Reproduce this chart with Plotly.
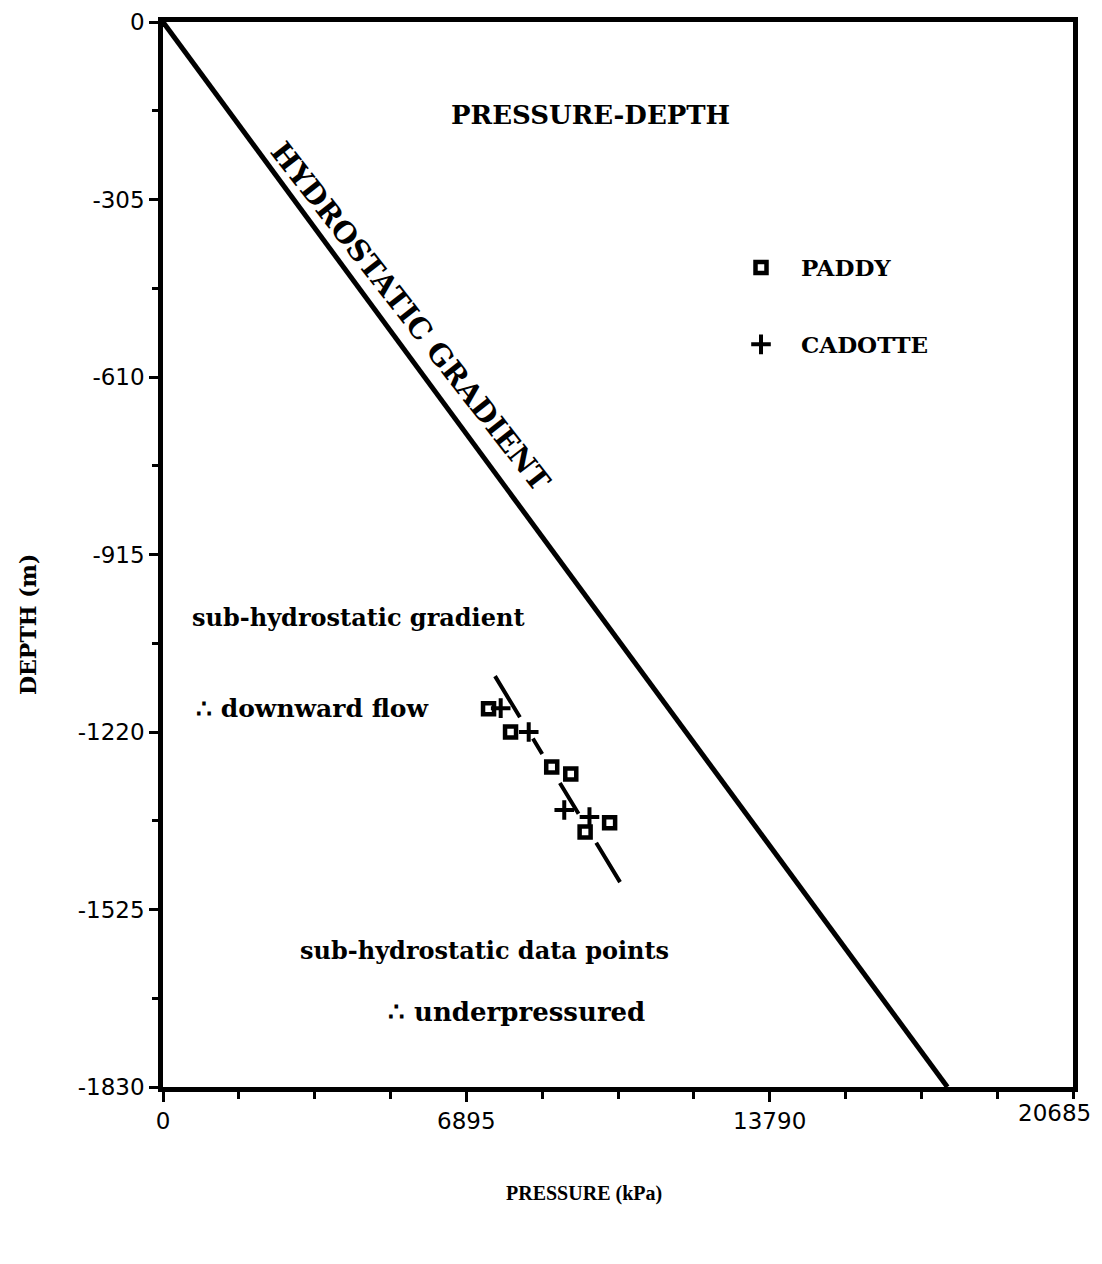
import plotly.graph_objects as go

# ---- data ----
paddy_pressure = [7400, 7900, 8836, 9269, 9595, 10152]
paddy_depth = [-1180, -1220, -1280, -1292, -1392, -1376]

cadotte_pressure = [7676, 8313, 9121, 9694]
cadotte_depth = [-1179, -1220, -1354, -1366]

hydro_pressure = [0, 17830]
hydro_depth = [0, -1830]

trend_pressure = [7547, 10389]
trend_depth = [-1124, -1478]

x_tickvals = [0, 6895, 13790, 20685]
x_ticktext = ["0", "6895", "13790", "20685"]
y_tickvals = [0, -305, -610, -915, -1220, -1525, -1830]
y_ticktext = ["0", "-305", "-610", "-915", "-1220", "-1525", "-1830"]

# page is offset by the 8px body margin
OFF = 8
PAGE_W, PAGE_H = 1102, 1264
W, H = PAGE_W - 2 * OFF, PAGE_H - 2 * OFF
L, R, T, B = 163, 1073, 22, 1087   # plot-area edges in page pixels


def px(x):
    return (x - L) / (R - L)


def py(y):
    return 1 - (y - T) / (B - T)


SERIF = "DejaVu Serif"
TIMES = "Liberation Serif"
SANS = "DejaVu Sans"

fig = go.Figure()

fig.add_trace(go.Scatter(
    x=hydro_pressure, y=hydro_depth, mode="lines",
    line=dict(color="black", width=5), showlegend=False, hoverinfo="skip"))

fig.add_trace(go.Scatter(
    x=trend_pressure, y=trend_depth, mode="lines",
    line=dict(color="black", width=4,
              dash="48px,25px,18px,34px,36px,34px,47px,100px"),
    showlegend=False, hoverinfo="skip"))

fig.add_trace(go.Scatter(
    x=paddy_pressure, y=paddy_depth, mode="markers", name="<b>PADDY</b>",
    legendgroup="a",
    marker=dict(symbol="square-open", size=11, color="black",
                line=dict(color="black", width=4.5))))

fig.add_trace(go.Scatter(
    x=cadotte_pressure, y=cadotte_depth, mode="markers", name="<b>CADOTTE</b>",
    legendgroup="b",
    marker=dict(symbol="cross-thin", size=14, color="black",
                line=dict(color="black", width=4))))

ann = [
    dict(text="<b>PRESSURE-DEPTH</b>", x=590, y=115, size=26),
    dict(text="<b>HYDROSTATIC GRADIENT</b>", x=410, y=316, size=29, angle=52),
    dict(text="<b>sub-hydrostatic gradient</b>", x=358, y=617, size=24),
    dict(text="<b>∴ downward flow</b>", x=312, y=708, size=25),
    dict(text="<b>sub-hydrostatic data points</b>", x=484, y=950, size=24),
    dict(text="<b>∴ underpressured</b>", x=516, y=1012, size=26),
    dict(text="<b>PRESSURE (kPa)</b>", x=584, y=1193, size=20, font=TIMES),
    dict(text="<b>DEPTH (m)</b>", x=28, y=625, size=22, angle=-90),
]
annotations = []
for a in ann:
    annotations.append(dict(
        text=a["text"], x=px(a["x"]), y=py(a["y"]), xref="paper", yref="paper",
        xanchor="center", yanchor="middle", showarrow=False,
        textangle=a.get("angle", 0),
        font=dict(family=a.get("font", SERIF), size=a["size"], color="black")))

# last x tick label sits left of the frame corner in the original
annotations.append(dict(
    text=x_ticktext[-1], x=1, y=py(1113), xref="paper", yref="paper",
    xanchor="right", yanchor="middle", xshift=20, showarrow=False,
    font=dict(family=SANS, size=23, color="black")))

fig.update_layout(
    width=W, height=H,
    margin=dict(l=L - OFF, r=W - (R - OFF), t=T - OFF, b=H - (B - OFF),
                autoexpand=False),
    paper_bgcolor="white", plot_bgcolor="white",
    showlegend=True,
    legend=dict(x=px(721), y=py(246), xanchor="left", yanchor="top",
                bgcolor="rgba(0,0,0,0)", tracegroupgap=44, itemwidth=70,
                font=dict(family=SERIF, size=23, color="black")),
    annotations=annotations,
    xaxis=dict(
        range=[0, 20685], tickvals=x_tickvals[:-1], ticktext=x_ticktext[:-1],
        automargin=False,
        showgrid=False, zeroline=False,
        showline=True, linecolor="black", linewidth=4.5, mirror=True,
        ticks="outside", ticklen=10, tickwidth=3, tickcolor="black",
        minor=dict(dtick=1723.75, tick0=0, ticks="outside", ticklen=7,
                   tickwidth=3, tickcolor="black", showgrid=False),
        tickfont=dict(family=SANS, size=23, color="black"),
    ),
    yaxis=dict(
        range=[-1830, 0], tickvals=y_tickvals, ticktext=y_ticktext,
        automargin=False,
        showgrid=False, zeroline=False,
        showline=True, linecolor="black", linewidth=4.5, mirror=True,
        ticks="outside", ticklen=9, tickwidth=3, tickcolor="black",
        minor=dict(dtick=152.5, tick0=0, ticks="outside", ticklen=6,
                   tickwidth=3, tickcolor="black", showgrid=False),
        tickfont=dict(family=SANS, size=23, color="black"),
    ),
)

fig.write_html("out.html")
